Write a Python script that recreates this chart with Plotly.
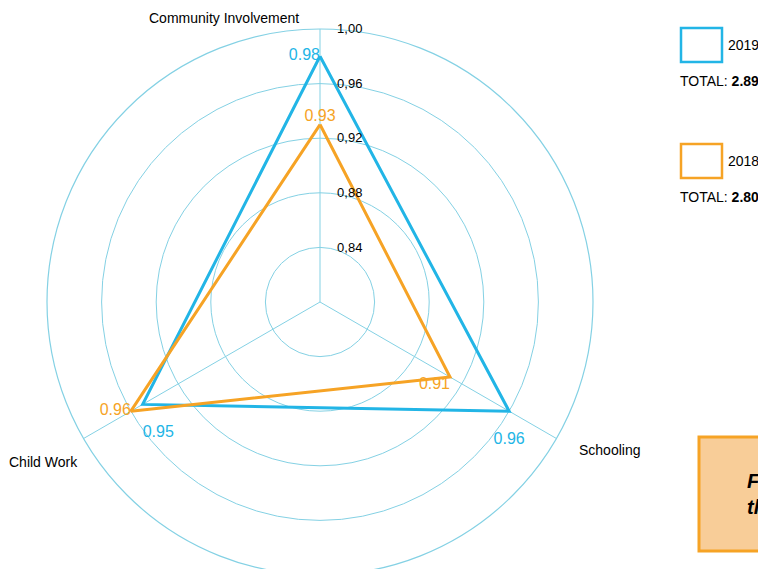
import plotly.graph_objects as go

categories = ["Community Involvement", "Schooling", "Child Work"]
values_2019 = [0.98, 0.96, 0.95]
values_2018 = [0.93, 0.91, 0.96]
labels_2019 = ["0.98", "<br>0.96", "<br>0.95"]
labels_2018 = ["0.93", "0.91", "0.96"]
pos_2019 = ["middle left", "bottom center", "bottom right"]
pos_2018 = ["top center", "bottom left", "middle left"]
radial_ticks = [0.84, 0.88, 0.92, 0.96, 1.00]
total_2019 = "2.89"
total_2018 = "2.80"

BLUE = "#22b5e6"
ORANGE = "#f6a325"
GRID = "#84d1e4"
FONT = "Liberation Sans, Arial, sans-serif"

W, H = 900, 620
OFF = 8  # page body margin


def px(x):
    return (x - OFF) / W


def py(y):
    return 1 - (y - OFF) / H


fig = go.Figure()

for vals, labs, pos, col, name in [
    (values_2019, labels_2019, pos_2019, BLUE, "2019"),
    (values_2018, labels_2018, pos_2018, ORANGE, "2018"),
]:
    fig.add_trace(go.Scatterpolar(
        r=vals + vals[:1], theta=categories + categories[:1],
        mode="lines", line=dict(color=col, width=3), name=name,
        showlegend=False, hoverinfo="skip"))
    fig.add_trace(go.Scatterpolar(
        r=vals, theta=categories, mode="text", text=labs,
        textposition=pos, textfont=dict(color=col, size=16, family=FONT),
        showlegend=False, hoverinfo="skip"))

cx, cy, R = 320, 302, 273
fig.update_layout(
    width=W, height=H,
    margin=dict(l=0, r=0, t=0, b=0),
    paper_bgcolor="white",
    separators=",.",
    font=dict(family=FONT, color="black"),
    polar=dict(
        domain=dict(x=[px(cx - R), px(cx + R)], y=[py(cy + R), py(cy - R)]),
        bgcolor="rgba(0,0,0,0)",
        radialaxis=dict(
            range=[0.80, 1.00], tickvals=radial_ticks, tickformat=".2f",
            angle=90, tickangle=90, side="clockwise",
            showline=False, ticks="outside", ticklen=14,
            tickcolor="rgba(0,0,0,0)", gridcolor=GRID, gridwidth=1,
            tickfont=dict(size=13, color="black", family=FONT)),
        angularaxis=dict(
            rotation=90, direction="clockwise", showticklabels=False,
            ticks="", linecolor=GRID, linewidth=1.2, gridcolor=GRID,
            gridwidth=1),
    ),
)

# axis category labels
fig.add_annotation(x=px(301), y=py(18), xref="paper", yref="paper",
                   text=categories[0], showarrow=False, xanchor="right",
                   yanchor="middle", font=dict(size=14, family=FONT))
fig.add_annotation(x=px(577), y=py(450), xref="paper", yref="paper",
                   text=categories[1], showarrow=False, xanchor="left",
                   yanchor="middle", font=dict(size=14, family=FONT))
fig.add_annotation(x=px(80), y=py(462), xref="paper", yref="paper",
                   text=categories[2], showarrow=False, xanchor="right",
                   yanchor="middle", font=dict(size=14, family=FONT))

# custom legend
for y0, col, name, tot in [(28, BLUE, "2019", total_2019),
                           (144, ORANGE, "2018", total_2018)]:
    fig.add_shape(type="rect", xref="paper", yref="paper",
                  x0=px(681), x1=px(722), y0=py(y0), y1=py(y0 + 34),
                  line=dict(color=col, width=2.5), fillcolor="white")
    fig.add_annotation(x=px(726), y=py(y0 + 17), xref="paper", yref="paper",
                       text=name, showarrow=False, xanchor="left", yanchor="middle",
                       font=dict(size=14, family=FONT))
    fig.add_annotation(x=px(678), y=py(y0 + 53), xref="paper", yref="paper",
                       text="TOTAL: <b>" + tot + "</b>", showarrow=False,
                       xanchor="left", yanchor="middle",
                       font=dict(size=14, family=FONT))

# figure caption box (clipped at the right edge of the window)
fig.add_shape(type="rect", xref="paper", yref="paper",
              x0=px(699), x1=px(900), y0=py(437), y1=py(551),
              line=dict(color=ORANGE, width=3), fillcolor="#f8cd98")
fig.add_annotation(x=px(745), y=py(494), xref="paper", yref="paper",
                   text="<b><i>Figure 1: Comparison of<br>the indices</i></b>",
                   showarrow=False, xanchor="left", yanchor="middle", align="left",
                   font=dict(size=20, family=FONT, color="black"))

fig.write_html("out.html")
